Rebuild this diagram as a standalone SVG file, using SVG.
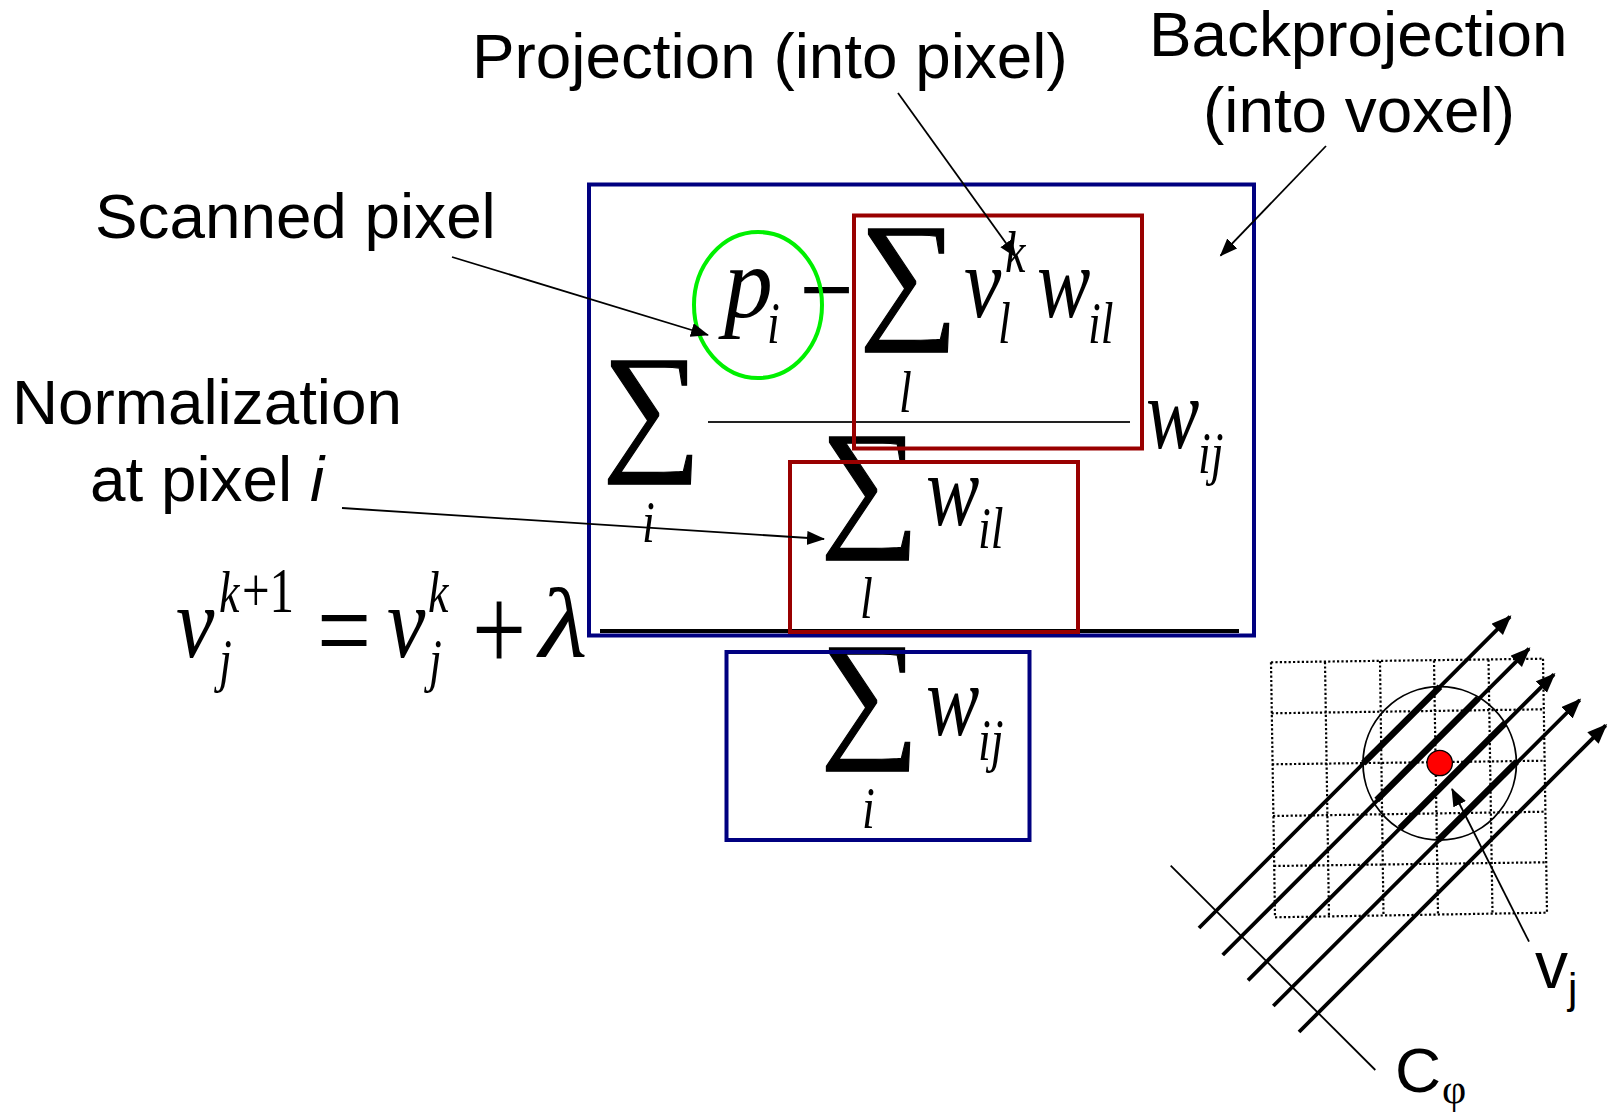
<svg xmlns="http://www.w3.org/2000/svg" width="1612" height="1114" viewBox="0 0 1612 1114">
<style>
.l{font-family:"Liberation Sans",Arial,sans-serif;font-size:63.800px;fill:#000}
.m{font-family:"Liberation Serif","Times New Roman",serif;font-style:italic;font-size:80px;fill:#000}
.s{font-family:"Liberation Serif","Times New Roman",serif;font-style:italic;font-size:46px;fill:#000}
.u{font-family:"Liberation Serif","Times New Roman",serif;font-size:96px;fill:#000}
.n{font-family:"Liberation Serif","Times New Roman",serif;font-size:49px;fill:#000}
.S{font-family:"Liberation Serif","Times New Roman",serif;font-size:120px;fill:#000;stroke:#000;stroke-width:1}
.blue{fill:none;stroke:#000080;stroke-width:4}
.red{fill:none;stroke:#990000;stroke-width:4}
.a{fill:none;stroke:#000;stroke-width:1.8}
.ray{fill:none;stroke:#000;stroke-width:3.8}
.thick{fill:none;stroke:#000;stroke-width:6.500}
.g{fill:none;stroke:#000;stroke-width:2.200;stroke-dasharray:2.200 2.200}
</style>
<defs>
<marker id="h" markerUnits="userSpaceOnUse" markerWidth="20" markerHeight="16" refX="17" refY="7" orient="auto"><path d="M0 0L18 7L0 14z" fill="#000"/></marker>
<marker id="hr" markerUnits="userSpaceOnUse" markerWidth="22" markerHeight="18" refX="18" refY="8" orient="auto"><path d="M0 0L20 8L0 16z" fill="#000"/></marker>
</defs>
<g id="formula">
<g transform="translate(176,657) scale(1.08,1.28)"><text class="m">v</text></g>
<g transform="translate(219,612) scale(1,1.28)"><text class="s">k</text><text class="n" x="23">+1</text></g>
<g transform="translate(219,680) scale(1,1.28)"><text class="s">j</text></g>
<g transform="translate(317,671) scale(1,1.28)"><text class="u">=</text></g>
<g transform="translate(387,657) scale(1.08,1.28)"><text class="m">v</text></g>
<g transform="translate(428,612) scale(1,1.28)"><text class="s">k</text></g>
<g transform="translate(429,680) scale(1,1.28)"><text class="s">j</text></g>
<g transform="translate(472,671) scale(1,1.28)"><text class="u">+</text></g>
<g transform="translate(539,657) scale(1.4,1.25)"><text class="m">λ</text></g>
<line x1="600" y1="631" x2="1239" y2="631" stroke="#000" stroke-width="4"/>
<g transform="translate(602,453.500) scale(1.16,1.185)"><text class="S">∑</text></g>
<g transform="translate(642,542) scale(1,1.28)"><text class="s">i</text></g>
<g transform="translate(724,317) scale(1.22,1.28)"><text class="m">p</text></g>
<g transform="translate(767,343) scale(1,1.28)"><text class="s">i</text></g>
<g transform="translate(799.500,331) scale(1,1.28)"><text class="u">−</text></g>
<g transform="translate(859,321.500) scale(1.16,1.185)"><text class="S">∑</text></g>
<g transform="translate(899,412) scale(1,1.28)"><text class="s">l</text></g>
<g transform="translate(964,317) scale(1.05,1.28)"><text class="m">v</text></g>
<g transform="translate(1005,272) scale(1,1.28)"><text class="s">k</text></g>
<g transform="translate(998,343) scale(1,1.28)"><text class="s">l</text></g>
<g transform="translate(1037,317) scale(1,1.28)"><text class="m">w</text></g>
<g transform="translate(1088,343) scale(1,1.28)"><text class="s">il</text></g>
<line x1="708" y1="422" x2="1130" y2="422" stroke="#222" stroke-width="1.8"/>
<g transform="translate(1146,448) scale(1,1.28)"><text class="m">w</text></g>
<g transform="translate(1198,473) scale(1,1.28)"><text class="s">ij</text></g>
<g transform="translate(820,529.500) scale(1.16,1.185)"><text class="S">∑</text></g>
<g transform="translate(926,525) scale(1,1.28)"><text class="m">w</text></g>
<g transform="translate(978,548) scale(1,1.28)"><text class="s">il</text></g>
<g transform="translate(860,618) scale(1,1.28)"><text class="s">l</text></g>
<g transform="translate(820,740.500) scale(1.16,1.185)"><text class="S">∑</text></g>
<g transform="translate(926,735) scale(1,1.28)"><text class="m">w</text></g>
<g transform="translate(978,760) scale(1,1.28)"><text class="s">ij</text></g>
<g transform="translate(862,828) scale(1,1.28)"><text class="s">i</text></g>
</g>
<g id="box-backprojection"><rect class="blue" x="589" y="184.500" width="665" height="451"/></g>
<g id="box-projection"><rect class="red" x="854" y="215.500" width="288" height="233"/></g>
<g id="box-normalization"><rect class="red" x="790" y="462" width="288" height="170"/></g>
<g id="box-denominator"><rect class="blue" x="726.500" y="652" width="303" height="188"/></g>
<g id="pixel-ellipse"><ellipse cx="758" cy="305" rx="64" ry="73" fill="none" stroke="#00f000" stroke-width="4"/></g>
<g id="label-projection"><text class="l" x="472" y="78">Projection (into pixel)</text></g>
<g id="label-backprojection"><text class="l" x="1149" y="56">Backprojection</text><text class="l" x="1203" y="131.500">(into voxel)</text></g>
<g id="label-scanned"><text class="l" x="95" y="238">Scanned pixel</text></g>
<g id="label-normalization"><text class="l" x="12" y="424">Normalization</text><text class="l" x="90" y="501">at pixel <tspan font-style="italic">i</tspan></text></g>
<g id="voxel-grid">
<path class="g" d="M1271 662.300L1543 658.700M1271.500 713.300L1543.500 709.300M1272 764.300L1545 760.700M1273 816L1545 811.700M1274 866L1546 862.300M1275 917.300L1547 912.700"/>
<path class="g" d="M1271 662.300L1275 917.300M1325 662L1329 917M1380 661L1383.500 916M1434 660.500L1438 915M1488.500 659.500L1492.500 914M1543 658.700L1547 912.700"/>
</g>
<g id="footprint"><circle cx="1439.700" cy="763.300" r="76.700" fill="none" stroke="#000" stroke-width="1.800"/></g>
<g id="voxel"><circle cx="1439.700" cy="763" r="12.700" fill="#ff0000" stroke="#000" stroke-width="1.300"/></g>
<g id="label-vj"><text class="l" x="1535" y="988" style="font-size:66px">v</text><text class="l" x="1568" y="1003" style="font-size:42px">j</text></g>
<g id="label-c"><text class="l" x="1395" y="1092">C</text><text x="1442" y="1103" style="font-family:'Liberation Serif',serif;font-size:42px">φ</text></g>
<g id="connectors">
<line class="a" x1="898" y1="93" x2="1016" y2="257" marker-end="url(#h)"/>
<line class="a" x1="1326" y1="146" x2="1220.500" y2="255.700" marker-end="url(#h)"/>
<line class="a" x1="452" y1="257" x2="708" y2="335" marker-end="url(#h)"/>
<line class="a" x1="342" y1="508" x2="824" y2="539" marker-end="url(#h)"/>
<line class="a" x1="1529" y1="941.700" x2="1452" y2="789" marker-end="url(#h)"/>
<line class="a" x1="1170.700" y1="865.700" x2="1375.300" y2="1070"/>
<line class="ray" x1="1199" y1="928" x2="1510" y2="616.700" marker-end="url(#hr)"/>
<line class="ray" x1="1222.700" y1="955" x2="1529" y2="648.700" marker-end="url(#hr)"/>
<line class="ray" x1="1248" y1="980.300" x2="1554" y2="674.300" marker-end="url(#hr)"/>
<line class="ray" x1="1273.300" y1="1006" x2="1579.700" y2="700" marker-end="url(#hr)"/>
<line class="ray" x1="1299" y1="1032" x2="1605.700" y2="725.300" marker-end="url(#hr)"/>
<line class="thick" x1="1363.300" y1="763.300" x2="1440" y2="686.700"/>
<line class="thick" x1="1376.700" y1="800" x2="1478.300" y2="698.300"/>
<line class="thick" x1="1400" y1="828.300" x2="1505" y2="723.300"/>
<line class="thick" x1="1438.300" y1="840" x2="1516.700" y2="761.700"/>
</g>
</svg>
